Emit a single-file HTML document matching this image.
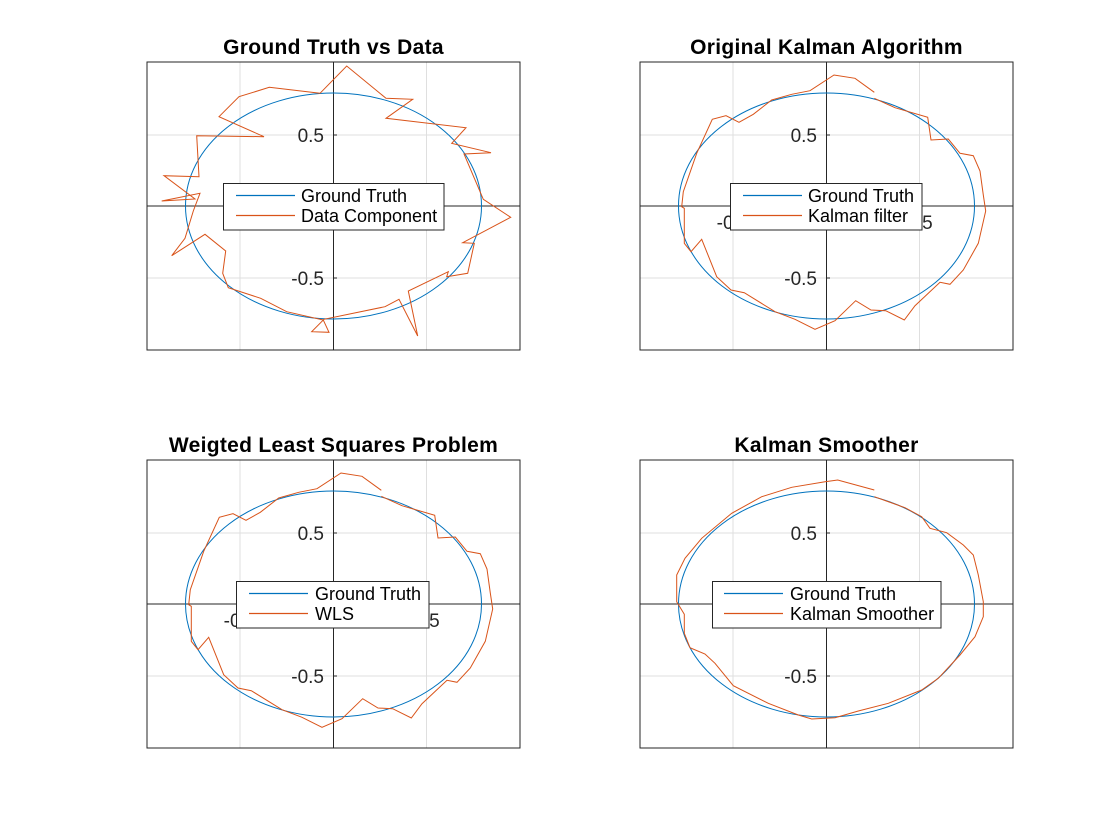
<!DOCTYPE html>
<html><head><style>html,body{margin:0;padding:0;background:#fff}svg{display:block}</style></head><body>
<svg width="1120" height="840" xmlns="http://www.w3.org/2000/svg" font-family="Liberation Sans, sans-serif">
<defs>
<g id="ax">
<rect x="147" y="62" width="373" height="288" fill="#fff"/>
<g stroke="#dfdfdf" stroke-width="1">
<line x1="240" y1="62" x2="240" y2="350"/><line x1="426.5" y1="62" x2="426.5" y2="350"/>
<line x1="147" y1="135" x2="520" y2="135"/><line x1="147" y1="278" x2="520" y2="278"/>
</g>
<rect x="147" y="62" width="373" height="288" fill="none" stroke="#262626" stroke-width="1"/>
<line x1="333.5" y1="62" x2="333.5" y2="350" stroke="#262626"/>
<line x1="147" y1="206" x2="520" y2="206" stroke="#262626"/>
<g stroke="#262626"><line x1="333.5" y1="135" x2="337" y2="135"/><line x1="333.5" y1="278" x2="337" y2="278"/><line x1="240" y1="206" x2="240" y2="202"/><line x1="426.5" y1="206" x2="426.5" y2="202"/></g>
<g font-size="19" fill="#262626" text-anchor="end"><text x="324" y="142">0.5</text><text x="324" y="285">-0.5</text></g>
<g font-size="19" fill="#262626" text-anchor="middle"><text x="240" y="229">-0.5</text><text x="426.5" y="229">0.5</text></g>
<ellipse cx="333.5" cy="206" rx="148" ry="113" fill="none" stroke="#0072BD" stroke-width="1"/>
</g>
</defs>
<use href="#ax"/>
<use href="#ax" transform="translate(493,0)"/>
<use href="#ax" transform="translate(0,398)"/>
<use href="#ax" transform="translate(493,398)"/>

<g font-size="21" font-weight="bold" fill="#000" text-anchor="middle" letter-spacing="0.3">
<text x="333.5" y="54">Ground Truth vs Data</text>
<text x="826.5" y="54">Original Kalman Algorithm</text>
<text x="333.5" y="452">Weigted Least Squares Problem</text>
<text x="826.5" y="452">Kalman Smoother</text>
</g>

<g fill="none" stroke="#D95319" stroke-width="1">
<polyline points="320,93.3 346.7,66 386,98.3 412.7,99.3 386,118.3 466,127.7 451.7,143.3 491,152.7 464,154 483.3,199.3 510.7,217.3 462.7,242.7 474.3,243.3 467.7,273.3 446.7,276.7 448.3,271.7 408.3,291 417.7,336 399,299.3 385,306.7 324,319.3 311.7,331.7 329,332.3 323.3,320 286.7,311.7 260.7,298.3 228.3,287.7 222.7,273.3 225.7,251 205,234.3 171.7,255.7 185,238.3 193.3,211 200,193.3 161.7,201 195,199 164,175.7 199,176.7 196.7,135.7 264,136.7 219,116.7 239,96.7 269.3,87.3 320,93.3"/>
<polyline points="874.3,92.3 855,78.3 834,75 810,90.7 791.7,94.3 771.7,100 753.3,114.3 739,122.3 726,115.7 712.3,119.3 696.7,153.3 683.3,191.7 681.7,206.7 684.3,208.3 684.3,243.3 691,251.7 701.7,239.3 716.7,276.7 731,290 744.3,292.7 775,311.7 795,319.3 815,329.3 835,320.7 855.7,300.7 871,310 885.7,310.7 904.3,320 915,305.7 940,282.3 950,284.3 963.3,270 978.3,243.3 985.7,211 983.3,195 980,171 973.3,155.7 960,153.3 948.3,139 931,140 927.7,117.3 895,107.7 874.3,98.3"/>
<polyline transform="translate(-493,398)" points="874.3,92.3 855,78.3 834,75 810,90.7 791.7,94.3 771.7,100 753.3,114.3 739,122.3 726,115.7 712.3,119.3 696.7,153.3 683.3,191.7 681.7,206.7 684.3,208.3 684.3,243.3 691,251.7 701.7,239.3 716.7,276.7 731,290 744.3,292.7 775,311.7 795,319.3 815,329.3 835,320.7 855.7,300.7 871,310 885.7,310.7 904.3,320 915,305.7 940,282.3 950,284.3 963.3,270 978.3,243.3 985.7,211 983.3,195 980,171 973.3,155.7 960,153.3 948.3,139 931,140 927.7,117.3 895,107.7 874.3,98.3"/>
<polyline points="874.3,490 837.7,480 825,481.7 791.7,487.3 761.7,496.7 731.7,513.3 701.7,538.3 685,558.3 676.7,575 676.7,601.7 684.3,614.3 684.3,633.3 690,647.7 705,654 715,663.3 733.3,685.7 768.3,703.3 798.3,715 811.7,719 835,717.7 858.3,711 888.3,703.3 921.7,690 938.3,678.3 960,655 975,636.7 983.3,616.7 983.3,601.7 978.3,575 973.3,555 963.3,545 946.7,532.7 930,528.3 921.7,516.7 905,507.7 874.3,496.7"/>
</g>

<rect x="223.5" y="183.5" width="220.5" height="46.5" fill="#fff" stroke="#262626"/>
<rect x="730.5" y="183.5" width="191.5" height="46.5" fill="#fff" stroke="#262626"/>
<rect x="236.5" y="581.5" width="192.5" height="46.5" fill="#fff" stroke="#262626"/>
<rect x="712.5" y="581.5" width="228.5" height="46.5" fill="#fff" stroke="#262626"/>

<g stroke-width="1.2">
<path d="M236 195.5H295M743 195.5H802M249 593.5H308M724 593.5H783" stroke="#0072BD"/>
<path d="M236 215.5H295M743 215.5H802M249 613.5H308M724 613.5H783" stroke="#D95319"/>
</g>

<g font-size="18" fill="#000">
<text x="301" y="202">Ground Truth</text><text x="301" y="222">Data Component</text>
<text x="808" y="202">Ground Truth</text><text x="808" y="222">Kalman filter</text>
<text x="315" y="600">Ground Truth</text><text x="315" y="620">WLS</text>
<text x="790" y="600">Ground Truth</text><text x="790" y="620">Kalman Smoother</text>
</g>
</svg>
</body></html>
